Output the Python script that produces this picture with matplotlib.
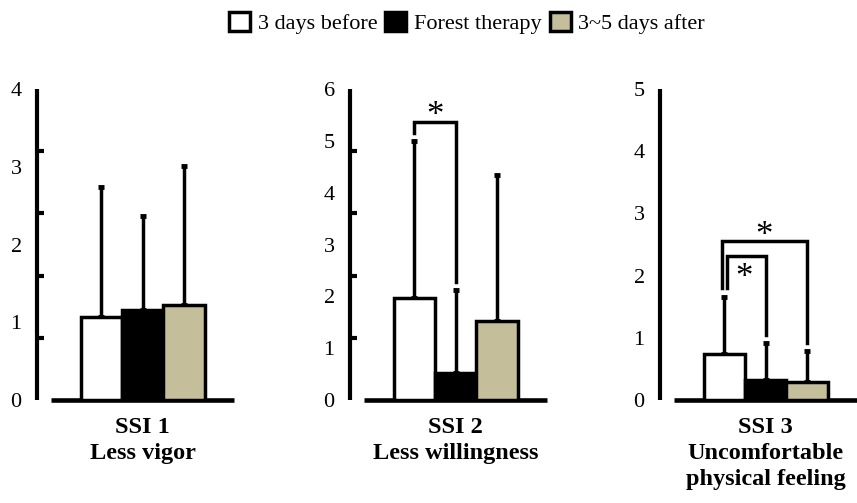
import numpy as np
import matplotlib
matplotlib.use("Agg")
import matplotlib.pyplot as plt
from matplotlib.patches import Patch

plt.rcParams.update({"font.family": "Liberation Serif", "font.size": 16})

groups = ["3 days before", "Forest therapy", "3~5 days after"]
colors = ["#FFFFFF", "#000000", "#C5BE9A"]

panel_titles = ["SSI 1\nLess vigor", "SSI 2\nLess willingness",
                "SSI 3\nUncomfortable\nphysical feeling"]
ymax = [4, 6, 5]

ssi1_mean = [1.07, 1.16, 1.22]
ssi1_sd = [1.67, 1.21, 1.79]
ssi2_mean = [1.96, 0.53, 1.52]
ssi2_sd = [3.04, 1.60, 2.82]
ssi3_mean = [0.74, 0.32, 0.29]
ssi3_sd = [0.91, 0.60, 0.50]

means = [ssi1_mean, ssi2_mean, ssi3_mean]
sds = [ssi1_sd, ssi2_sd, ssi3_sd]

# significant pairs (group i vs group j) per panel
sig_pairs = [[], [(0, 1)], [(0, 1), (0, 2)]]

W, H = 857, 503
fig = plt.figure(figsize=(W / 100, H / 100), dpi=100)

lefts = [37, 350, 660]
ax_w = 197
xl = (-1.55, 3.2)
LW = 2.5

for k in range(3):
    ax = fig.add_axes([lefts[k] / W, (H - 400) / H, ax_w / W, 311 / H])
    x = np.arange(3)
    m = np.array(means[k]); s = np.array(sds[k])
    ax.errorbar(x, m, yerr=[np.zeros(3), s], fmt="none", ecolor="k",
                elinewidth=LW, capsize=2.2, capthick=3.5, zorder=2)
    ax.bar(x, m, 1.0, color=colors, edgecolor="k", linewidth=LW, zorder=3)

    ax.set_xlim(*xl)
    ax.set_ylim(0, ymax[k])
    for sp in ["top", "right"]:
        ax.spines[sp].set_visible(False)
    ax.spines["left"].set_linewidth(3)
    ax.spines["bottom"].set_linewidth(3.3)
    ax.spines["bottom"].set_bounds(-1.22, xl[1])
    ax.set_xticks([])
    # labels at integers, tick marks split the axis into 5 parts
    ax.set_yticks(np.arange(ymax[k] + 1))
    ax.tick_params(axis="y", which="major", length=0, pad=11, labelsize=16)
    ax.set_yticks(np.linspace(0, ymax[k], 6), minor=True)
    ax.tick_params(axis="y", which="minor", direction="in", length=5, width=3)
    for sp in ax.spines.values():
        sp.set_capstyle("butt")

    ax.text(1, -0.055, panel_titles[k], transform=ax.get_xaxis_transform(),
            ha="center", va="top", fontsize=17.5, fontweight="bold",
            linespacing=1.3)

    # significance brackets
    gap = 0.026 * ymax[k]
    tops = m + s
    for i, j in sig_pairs[k]:
        if k == 1:
            yb, xi, star_y, star_va = 5.36, i, 5.36 - 0.2, "bottom"
        elif j == 2:
            yb, xi, star_y, star_va = 2.55, i - 0.05, 2.55 - 0.19, "bottom"
        else:
            yb, xi, star_y, star_va = 2.31, i + 0.06, 2.31 - 0.09, "top"
        left_bot = 1.80 if k == 2 else tops[i] + gap
        ax.plot([xi, xi, j, j], [left_bot, yb, yb, tops[j] + gap], color="k",
                lw=LW, solid_joinstyle="miter", clip_on=False, zorder=4)
        sx = (xi + j) / 2
        if k == 2:
            sx = 0.48 if j == 1 else 0.96
        ax.text(sx, star_y, "*", ha="center", va=star_va, fontsize=25)

handles = [Patch(facecolor=c, edgecolor="k", linewidth=LW) for c in colors]
fig.legend(handles, groups, loc="center", bbox_to_anchor=(0.545, 1 - 23 / H),
           ncol=3, frameon=False, handlelength=0.95, handleheight=0.95,
           handletextpad=0.35, columnspacing=0.35, fontsize=16)

fig.savefig("out.png", dpi=100)
